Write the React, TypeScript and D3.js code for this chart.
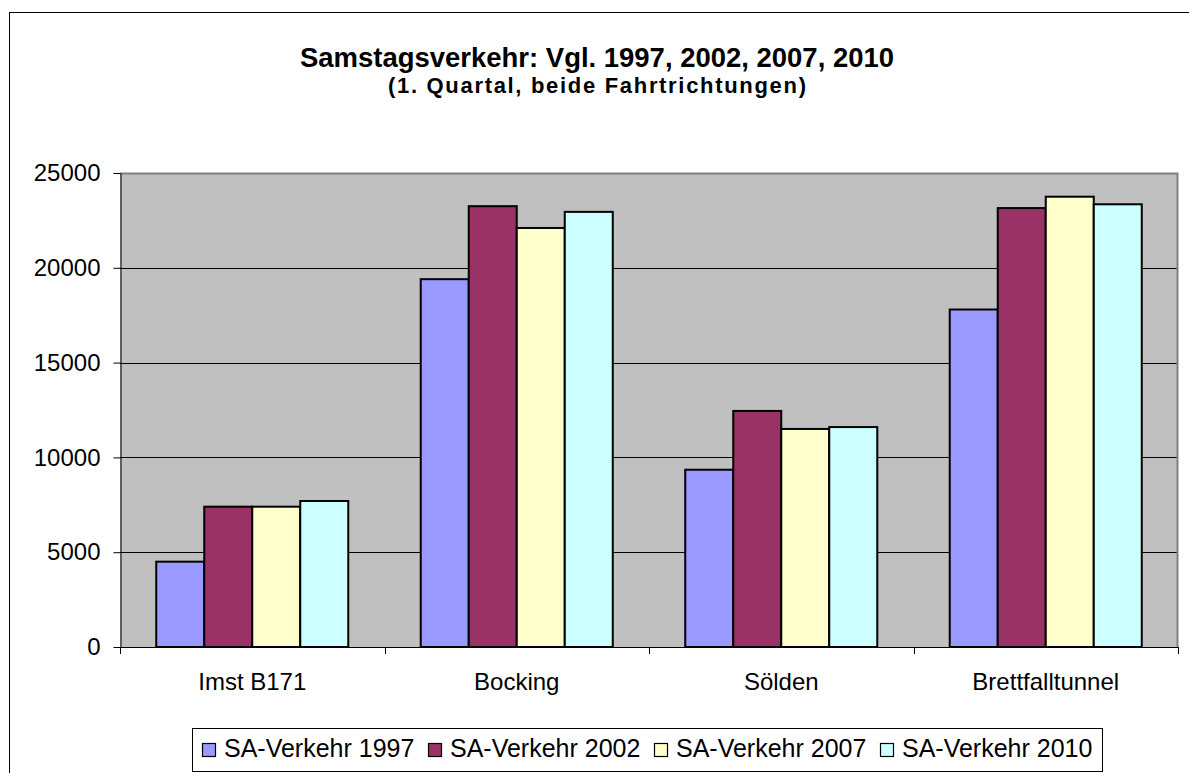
import React, { useEffect, useRef } from 'react';
import * as d3 from 'd3';

// chart data
const categories = ['Imst B171', 'Bocking', 'Sölden', 'Brettfalltunnel'];
const seriesNames = ['SA-Verkehr 1997', 'SA-Verkehr 2002', 'SA-Verkehr 2007', 'SA-Verkehr 2010'];
const values1997 = [4500, 19400, 9350, 17800];
const values2002 = [7400, 23250, 12450, 23150];
const values2007 = [7400, 22100, 11500, 23750];
const values2010 = [7700, 22950, 11600, 23350];
const yTicks = [0, 5000, 10000, 15000, 20000, 25000];
const seriesColors = ['#9999FF', '#993366', '#FFFFCC', '#CCFFFF'];

const App = () => {
    const svgRef = useRef<SVGSVGElement | null>(null);
    const width = 1189;
    const height = 773;

    useEffect(() => {
        const svg = d3.select(svgRef.current);
        svg.selectAll('*').remove();

        const font = 'Arial, "Liberation Sans", sans-serif';
        const plot = { left: 120, right: 1178, top: 173, bottom: 647 };
        const allSeries = [values1997, values2002, values2007, values2010];

        // outer chart frame (right and bottom run off the picture)
        svg.append('rect')
            .attr('x', 9.5).attr('y', 12.5)
            .attr('width', 1200).attr('height', 800)
            .style('fill', '#ffffff')
            .style('stroke', '#000000');

        // title
        svg.append('text')
            .attr('x', 597).attr('y', 67)
            .style('text-anchor', 'middle')
            .style('font-family', font)
            .style('font-weight', 'bold')
            .style('font-size', '27px')
            .attr('textLength', 594)
            .attr('lengthAdjust', 'spacingAndGlyphs')
            .text('Samstagsverkehr: Vgl. 1997, 2002, 2007, 2010');

        svg.append('text')
            .attr('x', 597).attr('y', 93)
            .style('text-anchor', 'middle')
            .style('font-family', font)
            .style('font-weight', 'bold')
            .style('font-size', '22px')
            .attr('textLength', 418)
            .attr('lengthAdjust', 'spacing')
            .text('(1. Quartal, beide Fahrtrichtungen)');

        // scales
        const x0 = d3.scaleBand<string>()
            .domain(categories)
            .range([plot.left, plot.right])
            .paddingInner(0.274)
            .paddingOuter(0.137);

        const x1 = d3.scaleBand<number>()
            .domain(d3.range(seriesNames.length))
            .range([0, x0.bandwidth()]);

        const y = d3.scaleLinear()
            .domain([0, 25000])
            .range([plot.bottom, plot.top]);

        // plot area
        svg.append('rect')
            .attr('x', plot.left).attr('y', plot.top)
            .attr('width', plot.right - plot.left)
            .attr('height', plot.bottom - plot.top)
            .style('fill', '#C0C0C0');

        // gridlines
        svg.append('g')
            .selectAll('line')
            .data(yTicks.filter(t => t > 0 && t < 25000))
            .enter().append('line')
            .attr('x1', plot.left).attr('x2', plot.right)
            .attr('y1', d => Math.round(y(d)) + 0.5)
            .attr('y2', d => Math.round(y(d)) + 0.5)
            .style('stroke', '#000000')
            .style('stroke-width', '1px');

        // plot border top / right
        svg.append('path')
            .attr('d', `M${plot.left},${plot.top + 0.5}H${plot.right - 0.5}V${plot.bottom}`)
            .style('fill', 'none')
            .style('stroke', '#808080')
            .style('stroke-width', '2px');

        // bars
        const groups = svg.append('g')
            .selectAll('g')
            .data(categories)
            .enter().append('g')
            .attr('transform', d => `translate(${x0(d)},0)`);

        groups.selectAll('rect')
            .data((d, ci) => allSeries.map((s, si) => ({ si, value: s[ci] })))
            .enter().append('rect')
            .attr('x', d => x1(d.si) as number)
            .attr('y', d => y(d.value))
            .attr('width', x1.bandwidth())
            .attr('height', d => plot.bottom - y(d.value))
            .style('fill', d => seriesColors[d.si])
            .style('stroke', '#000000')
            .style('stroke-width', '2px');

        // y axis
        const yAxis = svg.append('g')
            .attr('transform', `translate(${plot.left + 0.5},0)`)
            .call(d3.axisLeft(y).tickValues(yTicks).tickSize(7).tickSizeOuter(0).tickPadding(13).tickFormat(d3.format('d')));
        yAxis.select('.domain').style('stroke', '#000000');
        yAxis.selectAll('line').style('stroke', '#000000');
        yAxis.selectAll('text')
            .style('font-family', font)
            .style('font-size', '24px')
            .style('fill', '#000000');

        // x axis with ticks between categories
        const boundaries = categories.map(c => x0(c) as number - x0.step() * x0.paddingInner() / 2)
            .concat([plot.right]);
        const xAxis = svg.append('g');
        xAxis.append('line')
            .attr('x1', plot.left).attr('x2', plot.right)
            .attr('y1', plot.bottom + 0.5).attr('y2', plot.bottom + 0.5)
            .style('stroke', '#000000');
        xAxis.selectAll('.tick')
            .data(boundaries)
            .enter().append('line')
            .attr('x1', d => Math.round(d) + 0.5).attr('x2', d => Math.round(d) + 0.5)
            .attr('y1', plot.bottom).attr('y2', plot.bottom + 7)
            .style('stroke', '#000000');
        xAxis.selectAll('text')
            .data(categories)
            .enter().append('text')
            .attr('x', d => (x0(d) as number) + x0.bandwidth() / 2)
            .attr('y', 690)
            .style('text-anchor', 'middle')
            .style('font-family', font)
            .style('font-size', '24px')
            .text(d => d);

        // legend
        const legend = svg.append('g');
        legend.append('rect')
            .attr('x', 192.5).attr('y', 728.5)
            .attr('width', 910).attr('height', 43)
            .style('fill', '#ffffff')
            .style('stroke', '#000000');

        const legendItems = legend.selectAll('.legend-item')
            .data(seriesNames)
            .enter().append('g')
            .attr('class', 'legend-item')
            .attr('transform', (d, i) => `translate(${202 + i * 226}, 0)`);

        legendItems.append('rect')
            .attr('x', 0.5).attr('y', 743.5)
            .attr('width', 13).attr('height', 13)
            .style('fill', (d, i) => seriesColors[i])
            .style('stroke', '#000000')
            .style('stroke-width', '1.2px');

        legendItems.append('text')
            .attr('x', 22).attr('y', 757)
            .style('font-family', font)
            .style('font-size', '25px')
            .text(d => d);
    }, []);

    return (
        <svg ref={svgRef} width={width} height={height}
            style={{ position: 'absolute', left: 0, top: 0, background: '#ffffff' }}></svg>
    );
};

export default App;
